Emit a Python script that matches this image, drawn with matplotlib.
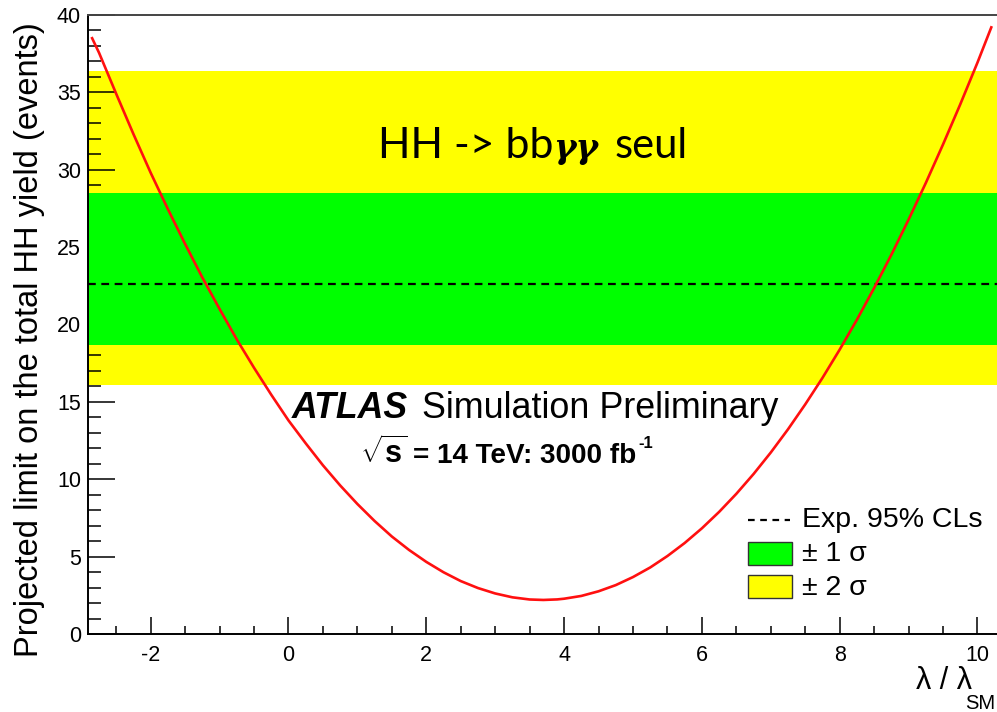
import matplotlib
matplotlib.use("Agg")
import matplotlib.pyplot as plt
from matplotlib.ticker import MultipleLocator
from matplotlib.lines import Line2D
from matplotlib.patches import Rectangle

plt.rcParams["axes.unicode_minus"] = False
plt.rcParams["mathtext.fontset"] = "custom"
plt.rcParams["mathtext.rm"] = "Liberation Sans"
plt.rcParams["mathtext.bf"] = "Liberation Sans:bold"
plt.rcParams["mathtext.it"] = "Liberation Sans:italic"

# ---- data ----
lam = [-2.85, -2.75, -2.5, -2.25, -2.0, -1.75, -1.5, -1.25, -1.0, -0.75, -0.5, -0.25,
       0.0, 0.25, 0.5, 0.75, 1.0, 1.25, 1.5, 1.75, 2.0, 2.25, 2.5, 2.75, 3.0, 3.25, 3.5, 3.7,
       3.9, 4.0, 4.25, 4.5, 4.75, 5.0, 5.25, 5.5, 5.75, 6.0, 6.25, 6.5, 6.75, 7.0, 7.25,
       7.5, 7.75, 8.0, 8.25, 8.5, 8.75, 9.0, 9.25, 9.5, 9.75, 10.0, 10.2]
limit = [38.5, 37.56, 34.9, 32.3, 29.8, 27.45, 25.2, 23.03, 21.0, 19.03, 17.2, 15.46,
         13.8, 12.32, 10.9, 9.6, 8.4, 7.3, 6.3, 5.43, 4.66, 3.99, 3.42, 2.97, 2.62, 2.37, 2.23, 2.2,
         2.235, 2.28, 2.46, 2.76, 3.16, 3.68, 4.30, 5.04, 5.88, 6.83, 7.89, 9.06, 10.34, 11.73, 13.23,
         14.84, 16.55, 18.38, 20.31, 22.36, 24.51, 26.78, 29.15, 31.64, 34.23, 36.93, 39.2]
exp_limit = 22.6
band1 = (18.7, 28.5)   # +-1 sigma
band2 = (16.1, 36.4)   # +-2 sigma
leg_labels = ["Exp. 95% CLs", "\u00b1 1 \u03c3", "\u00b1 2 \u03c3"]

W, H, DPI = 997, 712, 100
fig = plt.figure(figsize=(W / DPI, H / DPI), dpi=DPI)
ax = fig.add_axes([88 / W, 1 - 634 / H, 1 - 88 / W + 0.02, (634 - 15) / H])
ppu = 68.9
ax.set_xlim(-2.91, -2.91 + (W * (1 - 88 / W + 0.02)) / ppu)
ax.set_ylim(0, 40)

ax.axhspan(band2[0], band2[1], color="#ffff00", lw=0, zorder=1)
ax.axhspan(band1[0], band1[1], color="#00ff00", lw=0, zorder=2)
ax.axhline(exp_limit, color="black", lw=1.6, ls=(0, (3.5, 2.5)), zorder=3)
ax.plot(lam, limit, color="#ff1010", lw=1.9, zorder=4, solid_joinstyle="round")

ax.spines["right"].set_visible(False)
for s in ["left", "bottom", "top"]:
    ax.spines[s].set_linewidth(1.4)
ax.spines["top"].set_color("#444444")

ax.xaxis.set_major_locator(MultipleLocator(2))
ax.xaxis.set_minor_locator(MultipleLocator(0.5))
ax.yaxis.set_major_locator(MultipleLocator(5))
ax.yaxis.set_minor_locator(MultipleLocator(1))
ax.tick_params(axis="y", which="major", direction="in", length=19.5, width=1.1, labelsize=15.5, pad=5)
ax.tick_params(axis="y", which="minor", direction="in", length=9.5, width=1.1)
ax.tick_params(axis="x", which="major", direction="in", length=12, width=1.1, labelsize=15.5, pad=8)
ax.tick_params(axis="x", which="minor", direction="in", length=6, width=1.1)
for lab in ax.get_xticklabels() + ax.get_yticklabels():
    lab.set_family("Liberation Sans")

fig.text(30 / W, 1 - 340 / H, "Projected limit on the total HH yield (events)",
         family="Liberation Sans", fontsize=23.5, rotation=90, ha="center", va="center")

fig.text(972 / W, 1 - 689 / H, "\u03bb / \u03bb", family="Liberation Sans",
         fontsize=22, ha="right", va="baseline")
fig.text(995 / W, 1 - 709 / H, "SM", family="Liberation Sans", fontsize=14.5,
         ha="right", va="baseline")

renderer = fig.canvas.get_renderer()


def put(s, x_px, y_px, kw, target=None):
    t = fig.text(x_px / W, 1 - y_px / H, s, ha="left", va="baseline", **kw)
    bb = t.get_window_extent(renderer)
    if target:
        t.set_fontsize(kw["fontsize"] * target / bb.width)
        bb = t.get_window_extent(renderer)
    return bb.x1


# title
x = put("HH -> bb", 378, 158, dict(family="Lato", fontsize=30), 175)
x = put("\u03b3\u03b3", x, 158, dict(family="DejaVu Serif", fontsize=28, weight="bold",
                                      style="italic"), 45)
put("seul", x + 16, 158, dict(family="Lato", fontsize=30), 73)

# ATLAS label
put("ATLAS", 292, 418, dict(family="Liberation Sans", fontsize=22, weight="bold",
                            style="italic"), 116)
put("Simulation Preliminary", 422, 418, dict(family="Liberation Sans", fontsize=22), 355)
xs = put(r"$\sqrt{\mathbf{s}}$", 360, 463, dict(fontsize=22))
x0 = xs + 6
put("= 14 TeV: 3000 fb", x0, 463,
    dict(family="Liberation Sans", fontsize=20, weight="bold"), 637 - x0)
put("-1", 638, 448, dict(family="Liberation Sans", fontsize=12, weight="bold"))

# legend (manual, figure pixel coordinates)
fig.add_artist(Line2D([748 / W, 790 / W], [1 - 520 / H, 1 - 520 / H], color="black", lw=1.6,
                      ls=(0, (3, 2.5)), transform=fig.transFigure))
for (y0, y1), col in [((542, 565), "#00ff00"), ((575, 598), "#ffff00")]:
    fig.add_artist(Rectangle((748 / W, 1 - y1 / H), 44 / W, (y1 - y0) / H, facecolor=col,
                             edgecolor="#333333", lw=1.0, transform=fig.transFigure))
for lbl, yc in zip(leg_labels, [527, 561, 595]):
    fig.text(802 / W, 1 - yc / H, lbl, family="Liberation Sans", fontsize=20.5,
             ha="left", va="baseline")

fig.savefig("out.png", dpi=DPI)
